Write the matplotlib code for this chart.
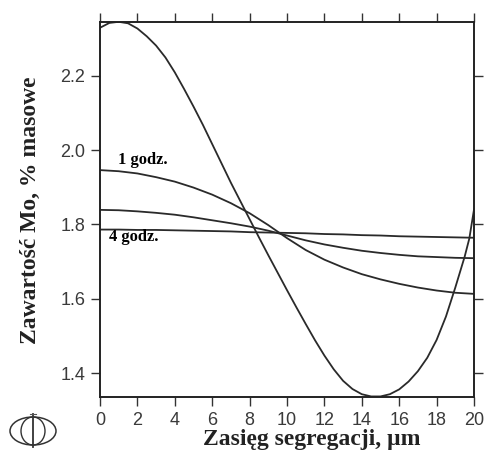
import numpy as np
import matplotlib
matplotlib.use('Agg')
import matplotlib.pyplot as plt
from matplotlib.patches import Ellipse

# (x in um, Mo in wt%)
x_big = [0, 0.5, 1, 1.5, 2, 2.5, 3, 3.5, 4, 4.5, 5, 5.5, 6, 6.5, 7, 7.5, 8,
         8.5, 9, 9.5, 10, 10.5, 11, 11.5, 12, 12.5, 13, 13.5, 14, 14.5, 15,
         15.5, 16, 16.5, 17, 17.5, 18, 18.5, 19, 19.5, 19.75, 20]
mo_big = [2.329, 2.342, 2.345, 2.341, 2.327, 2.306, 2.281, 2.249, 2.209, 2.164,
          2.117, 2.068, 2.016, 1.964, 1.912, 1.863, 1.814, 1.765, 1.717, 1.670,
          1.623, 1.577, 1.532, 1.488, 1.447, 1.410, 1.379, 1.357, 1.343, 1.337,
          1.337, 1.343, 1.356, 1.377, 1.405, 1.441, 1.489, 1.552, 1.630, 1.713,
          1.762, 1.840]

x_flat = [0, 1, 2, 3, 4, 5, 6, 7, 8, 9, 10, 11, 12, 13, 14, 15, 16, 17, 18, 19, 20]
mo_1h = [1.946, 1.943, 1.937, 1.927, 1.915, 1.899, 1.880, 1.857, 1.830, 1.798,
         1.763, 1.731, 1.705, 1.684, 1.666, 1.652, 1.640, 1.630, 1.622, 1.616, 1.613]
mo_2h = [1.839, 1.838, 1.835, 1.831, 1.826, 1.819, 1.811, 1.803, 1.794, 1.783,
         1.770, 1.757, 1.746, 1.737, 1.729, 1.723, 1.718, 1.714, 1.712, 1.710, 1.709]
mo_4h = [1.786, 1.786, 1.785, 1.785, 1.784, 1.783, 1.782, 1.781, 1.779, 1.778,
         1.777, 1.776, 1.774, 1.773, 1.771, 1.770, 1.768, 1.767, 1.766, 1.765, 1.764]

xticks = [0, 2, 4, 6, 8, 10, 12, 14, 16, 18, 20]
yticks = [1.4, 1.6, 1.8, 2.0, 2.2]

fig = plt.figure(figsize=(4.84, 4.51), dpi=100)
ax = fig.add_axes([100/484, 1-397/451, 374/484, 375/451])

lc = '#2a2a2a'
ax.plot(x_big, mo_big, '-', color=lc, lw=1.3)
ax.plot(x_flat, mo_1h, '-', color=lc, lw=1.3)
ax.plot(x_flat, mo_2h, '-', color=lc, lw=1.3)
ax.plot(x_flat, mo_4h, '-', color=lc, lw=1.3)

ax.set_xlim(0, 20)
ax.set_ylim(1.3355, 2.3445)
ax.set_xticks(xticks)
ax.set_yticks(yticks)
ax.set_xticklabels([str(v) for v in xticks])
ax.set_yticklabels(['%.1f' % v for v in yticks])
ax.tick_params(direction='out', length=6.5, width=1, color='#333333',
               labelsize=13, labelcolor='#3a3a3a',
               top=True, right=True, labeltop=False, labelright=False)
ax.tick_params(axis='x', pad=4)
ax.tick_params(axis='y', pad=4)
for lab in ax.get_xticklabels() + ax.get_yticklabels():
    lab.set_fontfamily('Liberation Sans')
for sp in ax.spines.values():
    sp.set_linewidth(1.4)
    sp.set_color('#222222')

serif = 'Liberation Serif'
ax.text(0.95, 1.962, '1 godz.', family=serif, weight='bold', fontsize=12)
ax.text(0.5, 1.755, '4 godz.', family=serif, weight='bold', fontsize=12)

fig.text(312/484, 1-439/451, 'Zasięg segregacji, µm', family=serif,
         weight='bold', fontsize=17, ha='center', va='center', color='#222222')
fig.text(30/484, 1-210/451, 'Zawartość Mo, % masowe', family=serif,
         weight='bold', fontsize=17, ha='center', va='center', rotation=90,
         color='#222222')

# small logo bottom-left
lg = fig.add_axes([0, 0, 1, 1], facecolor='none')
lg.set_xlim(0, 484)
lg.set_ylim(451, 0)
lg.axis('off')
lg.add_patch(Ellipse((33, 431), 46, 28, fill=False, lw=1.1, ec='#333333'))
lg.add_patch(Ellipse((33, 431), 24, 28, fill=False, lw=1.0, ec='#333333'))
lg.plot([33, 33], [414, 447], color='#333333', lw=1.3)
lg.plot([30, 36], [414, 414], color='#555555', lw=0.8)

fig.savefig('out.png', dpi=100)
